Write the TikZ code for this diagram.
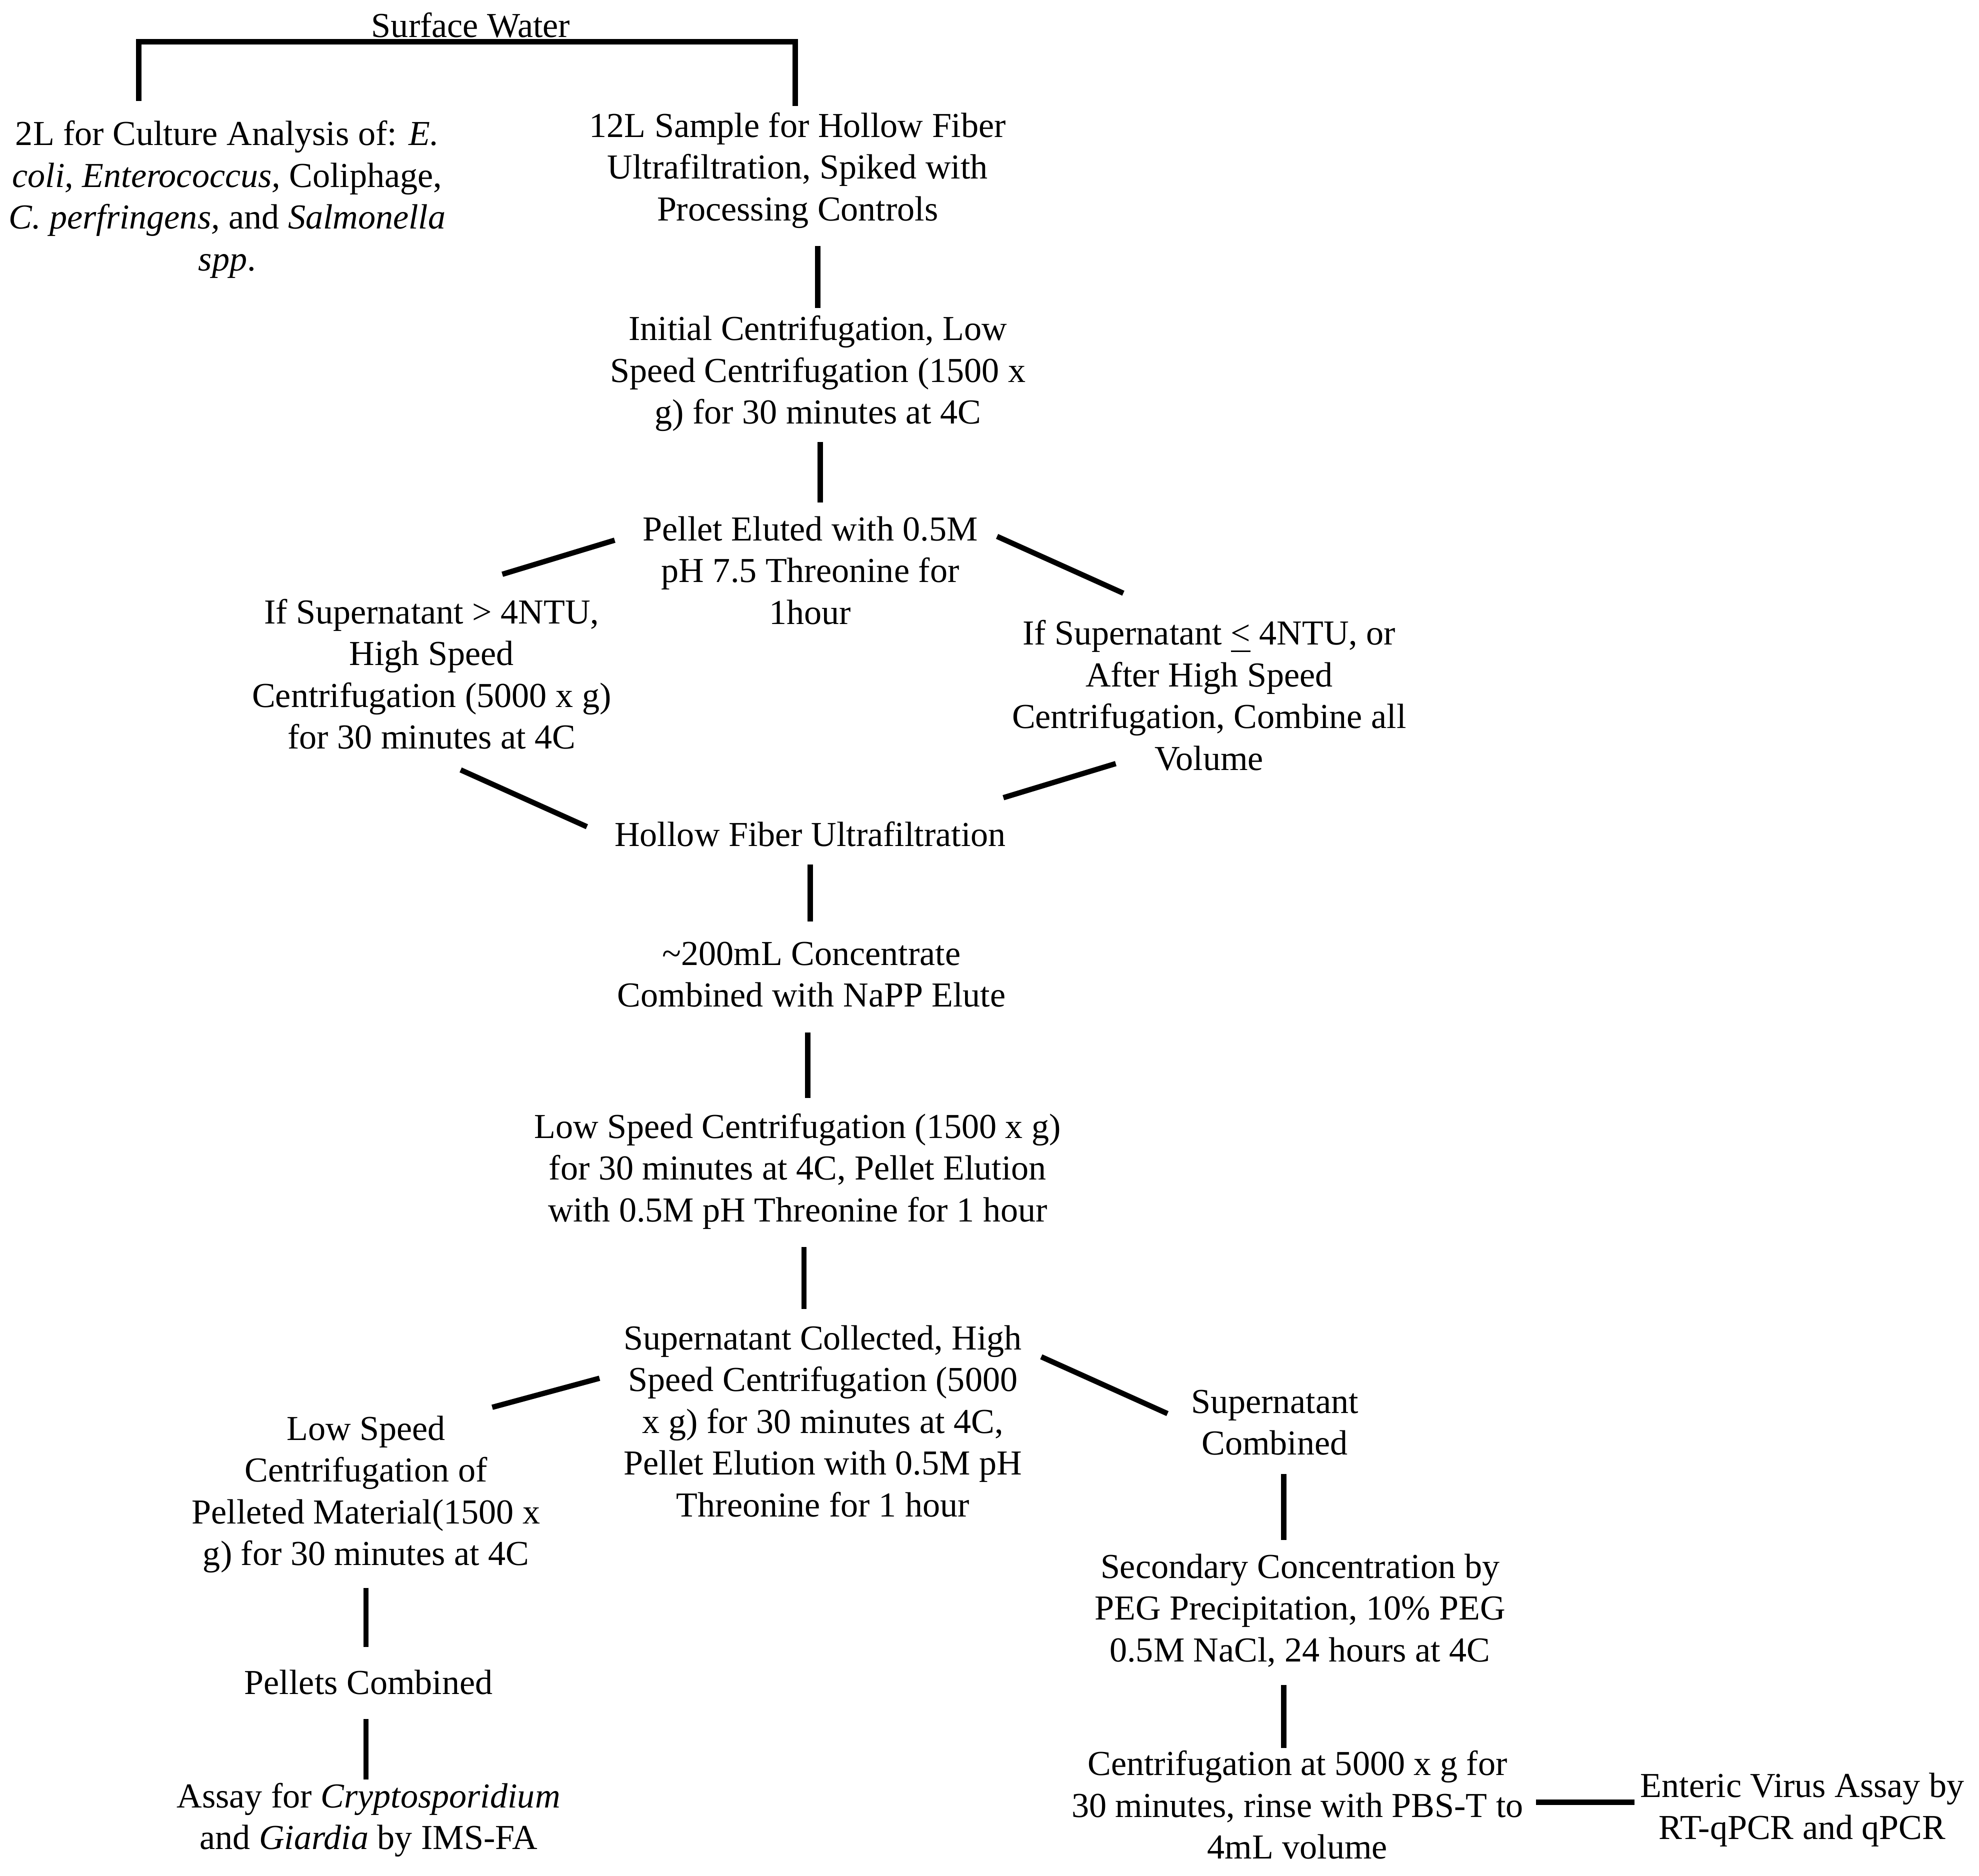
\documentclass[tikz,border=0pt]{standalone}
\usepackage{fontspec}
\setmainfont{Liberation Serif}
\begin{document}
\begin{tikzpicture}[x=1cm,y=-1cm,
  t/.style={align=center,inner sep=0pt,font=\fontsize{7.9pt}{9.4pt}\selectfont},
  conn/.style={line width=1.2pt}]
\useasboundingbox (0,0) rectangle (15.68,14.86);
\node[t] (sw) at (3.73,0.20) {Surface Water};
\node[t] (cul) at (1.80,1.58) {2L for Culture Analysis of: \textit{E.}\\\textit{coli, Enterococcus,} Coliphage,\\\textit{C. perfringens,} and \textit{Salmonella}\\\textit{spp}.};
\node[t] (hf12) at (6.32,1.35) {12L Sample for Hollow Fiber\\Ultrafiltration, Spiked with\\Processing Controls};
\node[t] (init) at (6.48,2.96) {Initial Centrifugation, Low\\Speed Centrifugation (1500 x\\g) for 30 minutes at 4C};
\node[t] (pel) at (6.42,4.52) {Pellet Eluted with 0.5M\\pH 7.5 Threonine for\\1hour};
\node[t] (l1) at (3.42,5.34) {If Supernatant > 4NTU,\\High Speed\\Centrifugation (5000 x g)\\for 30 minutes at 4C};
\node[t] (r1) at (9.58,5.51) {If Supernatant \underline{<} 4NTU, or\\After High Speed\\Centrifugation, Combine all\\Volume};
\node[t] (hfu) at (6.42,6.61) {Hollow Fiber Ultrafiltration};
\node[t] (conc) at (6.43,7.72) {\textasciitilde200mL Concentrate\\Combined with NaPP Elute};
\node[t] (low) at (6.32,9.28) {Low Speed Centrifugation (1500 x g)\\for 30 minutes at 4C, Pellet Elution\\with 0.5M pH Threonine for 1 hour};
\node[t] (sup) at (6.52,11.26) {Supernatant Collected, High\\Speed Centrifugation (5000\\x g) for 30 minutes at 4C,\\Pellet Elution with 0.5M pH\\Threonine for 1 hour};
\node[t] (lsp) at (2.90,11.84) {Low Speed\\Centrifugation of\\Pelleted Material(1500 x\\g) for 30 minutes at 4C};
\node[t] (supc) at (10.10,11.27) {Supernatant\\Combined};
\node[t] (sec) at (10.30,12.76) {Secondary Concentration by\\PEG Precipitation, 10\% PEG\\0.5M NaCl, 24 hours at 4C};
\node[t] (cent) at (10.28,14.30) {Centrifugation at 5000 x g for\\30 minutes, rinse with PBS-T to\\4mL volume};
\node[t] (ev) at (14.28,14.34) {Enteric Virus Assay by\\RT-qPCR and qPCR};
\node[t] (pc) at (2.92,13.33) {Pellets Combined};
\node[t] (as) at (2.92,14.42) {Assay for \textit{Cryptosporidium}\\and \textit{Giardia} by IMS-FA};
\draw[conn] (1.10,0.80) -- (1.10,0.33) -- (6.30,0.33) -- (6.30,0.84);
\draw[conn] (6.48,1.95) -- (6.48,2.44);
\draw[conn] (6.50,3.50) -- (6.50,3.98);
\draw[conn] (4.87,4.28) -- (3.98,4.55);
\draw[conn] (7.90,4.25) -- (8.90,4.70);
\draw[conn] (3.65,6.10) -- (4.65,6.55);
\draw[conn] (7.95,6.32) -- (8.84,6.05);
\draw[conn] (6.42,6.85) -- (6.42,7.30);
\draw[conn] (6.40,8.18) -- (6.40,8.70);
\draw[conn] (6.37,9.88) -- (6.37,10.37);
\draw[conn] (4.75,10.92) -- (3.90,11.15);
\draw[conn] (8.25,10.75) -- (9.25,11.20);
\draw[conn] (10.17,11.68) -- (10.17,12.20);
\draw[conn] (2.90,12.58) -- (2.90,13.05);
\draw[conn] (2.90,13.62) -- (2.90,14.10);
\draw[conn] (10.17,13.35) -- (10.17,13.85);
\draw[conn] (12.17,14.28) -- (12.95,14.28);
\end{tikzpicture}
\end{document}
